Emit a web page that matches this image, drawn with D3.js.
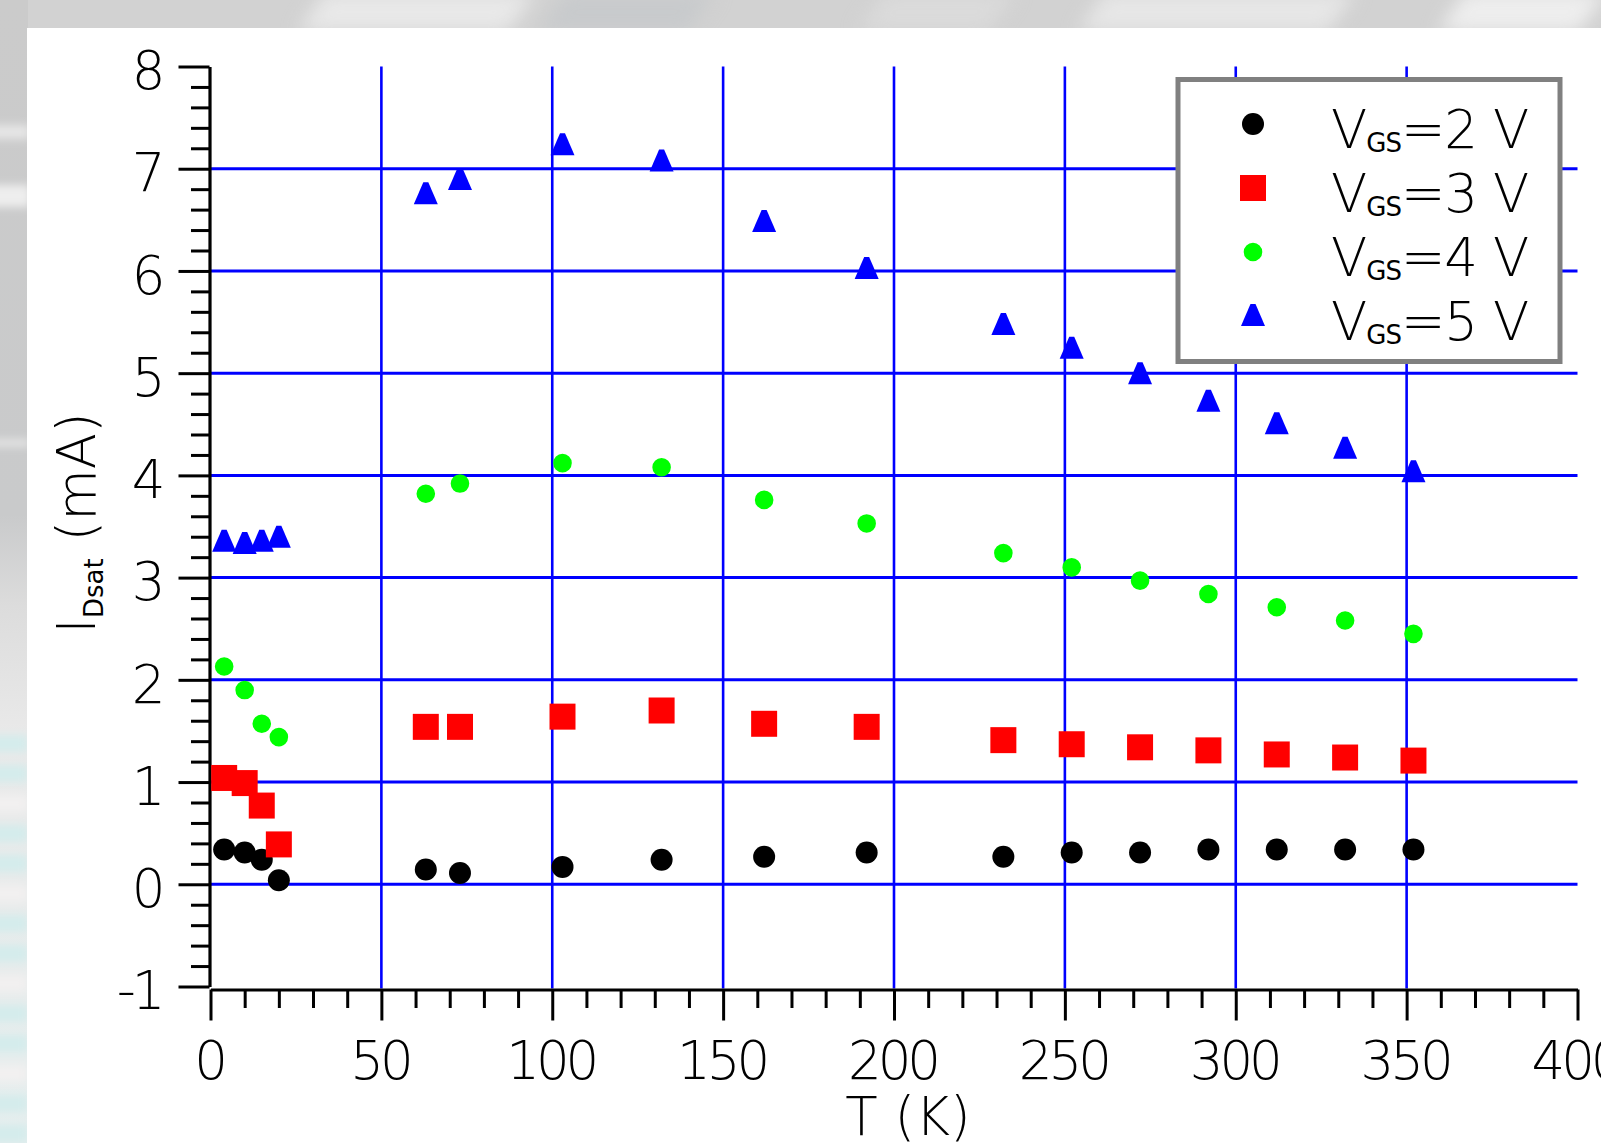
<!DOCTYPE html>
<html><head><meta charset="utf-8">
<script src="https://cdn.jsdelivr.net/npm/d3@7"></script>
<style>
html,body{margin:0;padding:0;overflow:hidden;background:#fff}
svg{display:block}
text{font-family:"DejaVu Sans",sans-serif;font-weight:200;fill:#000}
.sub{font-weight:400}
</style></head><body>
<svg id="c" width="1601" height="1143"></svg>
<script>
// ---- data ----
const temps = [4,10,15,20,63,73,103,132,162,192,232,252,272,292,312,332,352];
const vgs2 = [0.34,0.31,0.24,0.04,0.145,0.11,0.17,0.24,0.27,0.31,0.27,0.31,0.31,0.34,0.34,0.34,0.34];
const vgs3 = [1.04,0.99,0.77,0.39,1.54,1.54,1.64,1.70,1.57,1.54,1.41,1.37,1.34,1.31,1.27,1.24,1.21];
const vgs4 = [2.13,1.90,1.57,1.44,3.82,3.92,4.12,4.08,3.76,3.53,3.24,3.10,2.97,2.84,2.71,2.58,2.45];
const vgs5 = [3.35,3.33,3.35,3.39,6.75,6.89,7.23,7.07,6.48,6.02,5.47,5.24,4.99,4.72,4.50,4.26,4.03];
const seriesVolts = ["2","3","4","5"];
const xTickLabels = [0,50,100,150,200,250,300,350,400];
const yTickLabels = [-1,0,1,2,3,4,5,6,7,8];
const xGrid = [50,100,150,200,250,300,350];
const yGrid = [0,1,2,3,4,5,6,7];

const svg = d3.select('#c');
const W = 1601, H = 1143;

// ---- background (gray photo-like frame) ----
const defs = svg.append('defs');
const blur = defs.append('filter').attr('id','bl').attr('x','-50%').attr('y','-50%').attr('width','200%').attr('height','200%');
blur.append('feGaussianBlur').attr('stdDeviation',9);
const blur2 = defs.append('filter').attr('id','bl2').attr('x','-50%').attr('y','-50%').attr('width','200%').attr('height','200%');
blur2.append('feGaussianBlur').attr('stdDeviation',4);
const lg = defs.append('linearGradient').attr('id','lft').attr('x1',0).attr('x2',0).attr('y1',0).attr('y2',1);
[[0,'#cbcbcb'],[0.45,'#c9cacb'],[0.53,'#dcdcdc'],[0.64,'#e9e9e9'],[1,'#e6eeee']].forEach(s=>lg.append('stop').attr('offset',s[0]).attr('stop-color',s[1]));
svg.append('rect').attr('width',W).attr('height',H).attr('fill','#d2d2d2');
svg.append('rect').attr('width',28).attr('height',H).attr('fill','url(#lft)');
const streaks = svg.append('g').attr('filter','url(#bl)');
[[320,0,210,40,'#e8e8e8'],[560,0,150,40,'#c8cacc'],[1100,0,250,40,'#e6e6e6'],[1460,0,141,40,'#eeeeee'],[880,0,130,40,'#dadada']]
  .forEach(r=>streaks.append('rect').attr('x',r[0]).attr('y',r[1]-8).attr('width',r[2]).attr('height',r[3]).attr('fill',r[4]).attr('transform',`skewX(-35)`).attr('transform-origin',`${r[0]} 0`));
const lstreaks = svg.append('g').attr('filter','url(#bl2)');
[[125,14,'#e6e6e6'],[185,22,'#eeeeee'],[440,6,'#ebebeb']].forEach(r=>lstreaks.append('rect').attr('x',-10).attr('y',r[0]).attr('width',40).attr('height',r[1]).attr('fill',r[2]));
const stripes = svg.append('g');
for (let yy = 735, i = 0; yy < H; yy += 30, i++) {
  stripes.append('rect').attr('x',-10).attr('y',yy).attr('width',38).attr('height',17).attr('fill', i%3===2 ? '#f2f0f0' : '#d4ecec').attr('filter','url(#bl2)');
}
svg.append('rect').attr('x',27).attr('y',28).attr('width',W-27).attr('height',H-28).attr('fill','#fff');

// ---- scales ----
const x = d3.scaleLinear().domain([0,400]).range([210.5,1577.5]);
const y = d3.scaleLinear().domain([-1,8]).range([986.5,66.5]);
const FS = 53;
const fmt = d => String(d).replace('\u2212','-');

// ---- grid ----
const grid = svg.append('g').attr('stroke','#0000ff').attr('stroke-width',3);
grid.selectAll('.h').data(yGrid).join('line').attr('x1',x(0)).attr('x2',x(400)).attr('y1',d=>y(d)).attr('y2',d=>y(d));
grid.selectAll('.v').data(xGrid).join('line').attr('y1',y(8)).attr('y2',y(-1)+2).attr('x1',d=>x(d)).attr('x2',d=>x(d)).attr('stroke-width',2.6);

// ---- axes ----
const yMinor = d3.range(-1,8.0001,0.2).filter(v=>Math.abs(v-Math.round(v))>1e-6);
const xMinor = d3.range(0,400.001,10).filter(v=>v%50!==0);
const axX0 = x(0)-1;
const gy = svg.append('g').attr('transform',`translate(${axX0},0)`);
gy.call(d3.axisLeft(y).tickValues(yMinor).tickSize(18.5).tickSizeOuter(0).tickFormat(''));
gy.call(g=>g.select('.domain').remove());
const gy2 = svg.append('g').attr('transform',`translate(${axX0},0)`)
  .call(d3.axisLeft(y).tickValues(yTickLabels).tickSize(31).tickSizeOuter(0).tickPadding(15).tickFormat(fmt));
const axY = y(-1)+3;
const gx = svg.append('g').attr('transform',`translate(0,${axY})`);
gx.call(d3.axisBottom(x).tickValues(xMinor).tickSize(18.5).tickSizeOuter(0).tickFormat(''));
gx.call(g=>g.select('.domain').remove());
const gx2 = svg.append('g').attr('transform',`translate(0,${axY})`)
  .call(d3.axisBottom(x).tickValues(xTickLabels).tickSize(31).tickSizeOuter(0).tickPadding(20).tickFormat(fmt));
[gy,gy2,gx,gx2].forEach(g=>{
  g.selectAll('line').attr('stroke','#000').attr('stroke-width',3);
  g.selectAll('.domain').attr('stroke','#000').attr('stroke-width',3.2);
  g.selectAll('text').attr('font-size',FS).attr('fill','#000').style('letter-spacing','-4px');
  g.attr('font-family',null).attr('font-size',null);
});
gy2.selectAll('text').attr('dy','0.42em').attr('dx',-2);
gx2.selectAll('text').attr('dy','0.72em').attr('dx',-2);

// ---- axis titles ----
svg.append('text').attr('x',908).attr('y',1135).attr('text-anchor','middle').attr('font-size',FS).text('T (K)');
const yt = svg.append('text').attr('transform','translate(95,523) rotate(-90)').attr('text-anchor','middle').attr('font-size',FS);
yt.append('tspan').text('I');
yt.append('tspan').attr('class','sub').attr('font-size',26).attr('dy',8).text('Dsat');
yt.append('tspan').attr('dy',-8).text(' (mA)');

// ---- markers ----
const sym = {
  circle: d3.symbol().type(d3.symbolCircle).size(Math.PI*11*11)(),
  square: d3.symbol().type(d3.symbolSquare).size(26*26)(),
  dot: d3.symbol().type(d3.symbolCircle).size(Math.PI*9.3*9.3)(),
  tri: 'M-2.5,-12L2.5,-12L12,10L-12,10Z'
};
const series = [
  {v:vgs2, shape:'circle', color:'#000000'},
  {v:vgs3, shape:'square', color:'#ff0000'},
  {v:vgs4, shape:'dot', color:'#00ff00'},
  {v:vgs5, shape:'tri', color:'#0000ff'}
];
series.forEach(s=>{
  svg.append('g').selectAll('path').data(temps.map((t,i)=>[t,s.v[i]])).join('path')
    .attr('d',sym[s.shape]).attr('fill',s.color)
    .attr('transform',d=>`translate(${x(d[0])},${y(d[1])})`);
});

// ---- legend ----
const leg = svg.append('g');
leg.append('rect').attr('x',1178).attr('y',79.5).attr('width',382).attr('height',282).attr('fill','#fff').attr('stroke','#808080').attr('stroke-width',5);
series.forEach((s,i)=>{
  const cy = 124 + i*64;
  leg.append('path').attr('d',sym[s.shape]).attr('fill',s.color).attr('transform',`translate(1253,${cy})`);
  const t = leg.append('text').attr('x',1331).attr('y',cy+23.5).attr('font-size',FS).style('letter-spacing','-1px');
  t.append('tspan').text('V');
  t.append('tspan').attr('class','sub').attr('font-size',26).attr('dy',4.5).text('GS');
  t.append('tspan').attr('dy',-4.5).text('=' + seriesVolts[i] + ' V');
});
</script>
</body></html>
